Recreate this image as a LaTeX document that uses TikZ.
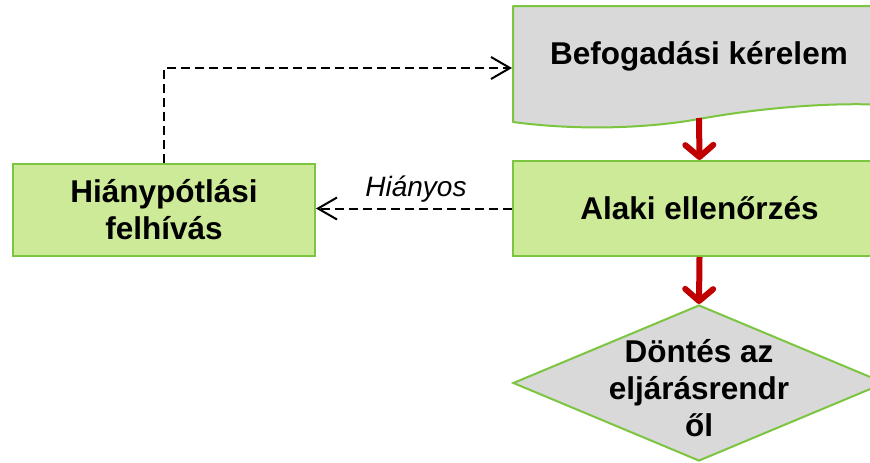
\documentclass[tikz,border=0pt]{standalone}
\usepackage{fontspec}
\setmainfont{Liberation Sans}
\usetikzlibrary{arrows.meta,shapes.geometric}

\definecolor{boxgreen}{HTML}{CDEA98}
\definecolor{edgegreen}{HTML}{7CC540}
\definecolor{docgray}{HTML}{D9D9D9}
\definecolor{flowred}{HTML}{C00000}

\tikzset{
  boxtext/.style={font=\fontsize{31.5}{37}\selectfont\bfseries, align=center, text=black},
  greenbox/.style={boxtext, draw=edgegreen, fill=boxgreen, line width=2pt,
    rectangle, inner sep=0pt},
  grayshape/.style={draw=edgegreen, fill=docgray, line width=2pt, line join=round},
  mainflow/.style={draw=flowred, line width=6pt,
    -{Straight Barb[length=12pt,width=28pt,line cap=round,line join=round]}},
  returnflow/.style={draw=black, line width=2pt, dash pattern=on 9pt off 5pt,
    -{Straight Barb[length=19pt,width=22pt]}},
  edgelabel/.style={font=\fontsize{28}{32}\selectfont\itshape, text=black}
}

\begin{document}
\begin{tikzpicture}[x=1pt,y=-1pt]
  \useasboundingbox (0,0) rectangle (870,463);
  \clip (0,0) rectangle (870,463);

  % request document with wavy lower edge
  \path[grayshape] (513,6) -- (886,6) -- (886,105)
    .. controls (830,102) and (760,108) .. (699,119)
    .. controls (650,128) and (580,131) .. (513,122) -- cycle;
  \node[boxtext] (befog) at (699,56) {Befogadási kérelem};
  \coordinate (docbot) at (699,118);

  % formal check
  \node[greenbox, minimum width=373pt, minimum height=95pt] (alaki)
    at (699.5,208.5) {Alaki ellenőrzés};

  % request for missing items
  \node[greenbox, minimum width=302pt, minimum height=92pt] (hiany)
    at (164,210) {Hiánypótlási\\felhívás};

  % decision on the procedure
  \node[draw=edgegreen, fill=docgray, line width=2pt, diamond, aspect=2.38,
    inner sep=0pt, minimum width=372pt, minimum height=156pt] (dontes)
    at (699,383) {};
  \node[boxtext] (dontestext) at (699,388) {Döntés az\\eljárásrendr\\ől};

  % main flow
  \draw[mainflow] (docbot) -- (alaki.north);
  \draw[mainflow] (alaki.south) -- (dontes.north);

  % return loop
  \draw[returnflow] (alaki.west) -- node[edgelabel, above=2pt, pos=0.49] (hianyos) {Hiányos}
    (alaki.west -| hiany.east);
  \coordinate (bend) at (164,68);
  \draw[returnflow] (hiany.north) -- (bend) -- (bend -| alaki.west);
\end{tikzpicture}
\end{document}
